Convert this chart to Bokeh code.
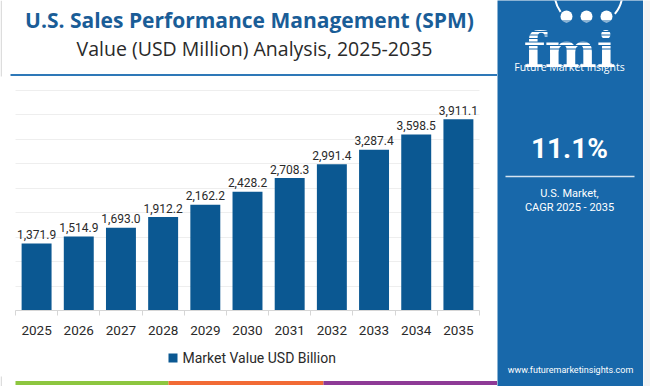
from bokeh.plotting import figure
from bokeh.models import (Range1d, ColumnDataSource, FixedTicker, LinearAxis, Grid)
from bokeh.layouts import row
from bokeh.embed import file_html
from bokeh.resources import INLINE
from bokeh.core.properties import value

# ---------------- data ----------------
years = ["2025", "2026", "2027", "2028", "2029", "2030", "2031", "2032", "2033", "2034", "2035"]
market_values = [1371.9, 1514.9, 1693.0, 1912.2, 2162.2, 2428.2, 2708.3, 2991.4, 3287.4, 3598.5, 3911.1]
series_name = "Market Value USD Billion"
title_text = "U.S. Sales Performance Management (SPM)"
subtitle_text = "Value (USD Million) Analysis, 2025-2035"
cagr_text = "11.1%"
cagr_caption = ["U.S. Market,", "CAGR 2025 - 2035"]
brand_name = "Future Market Insights"
brand_url = "www.futuremarketinsights.com"
y_grid_ticks = [0, 500, 1000, 1500, 2000, 2500, 3000, 3500, 4000, 4500]

# ---------------- styles / layout ----------------
BAR = "#0b5892"
PANEL = "#1868aa"
TITLE_C = "#1a5d97"
TEXT_C = "#2a2a2a"
FONT = "Roboto"
HEAD_FONT = "Open Sans"
W, H = 497, 386            # white chart area (pixels)
AXIS_L, AXIS_R = 15, 479   # pixel extent of the category axis
BASE_Y, TOP_Y = 310, 90    # pixel rows of value 0 and of the top grid line


def blank(width, height, xr, yr, bg="white"):
    f = figure(width=width, height=height, x_range=xr, y_range=yr, title=None,
               x_axis_location=None, y_axis_location=None,
               toolbar_location=None, output_backend="svg",
               min_border=0, min_border_left=0, min_border_right=0,
               min_border_top=0, min_border_bottom=0, outline_line_color=None,
               background_fill_color=bg, border_fill_color=bg)
    f.center = [r for r in f.center if not isinstance(r, Grid)]
    return f


# ---------------- left area: one figure, pixel ranges + data ranges ----------------
left = blank(W, H, Range1d(0, W), Range1d(H, 0))

n = len(years)
idx = list(range(n))
cat_px = (AXIS_R - AXIS_L) / n
x_lo, x_hi = -0.5, n - 0.5
vpp = y_grid_ticks[-1] / (BASE_Y - TOP_Y)
left.extra_x_ranges = {"cat": Range1d(x_lo - AXIS_L / cat_px, x_hi + (W - AXIS_R) / cat_px)}
left.extra_y_ranges = {"val": Range1d(-(H - BASE_Y) * vpp, y_grid_ticks[-1] + TOP_Y * vpp)}

src = ColumnDataSource(dict(x=idx, year=years, value=market_values,
                            label=[f"{v:,.1f}" for v in market_values]))

if "cross_bounds" in Grid.properties():
    left.add_layout(Grid(dimension=1, ticker=FixedTicker(ticks=y_grid_ticks),
                         x_range_name="cat", y_range_name="val", cross_bounds=(x_lo, x_hi),
                         grid_line_color="#eeeeee", grid_line_width=1))
else:
    left.segment(x0=[x_lo] * len(y_grid_ticks), y0=y_grid_ticks,
                 x1=[x_hi] * len(y_grid_ticks), y1=y_grid_ticks,
                 x_range_name="cat", y_range_name="val",
                 line_color="#eeeeee", line_width=1, level="underlay")

bars = left.vbar(x="x", top="value", bottom=0, width=0.71, source=src,
                 x_range_name="cat", y_range_name="val", fill_color=BAR, line_color=None)
left.text(x="x", y="value", text="label", source=src, x_range_name="cat", y_range_name="val",
          text_align="center", text_baseline="alphabetic", y_offset=-9,
          text_font=value(FONT), text_font_size="12px", text_color=TEXT_C)

xaxis = LinearAxis(x_range_name="cat", y_range_name="val", fixed_location=0,
                   ticker=FixedTicker(ticks=idx, minor_ticks=[i - 0.5 for i in range(n + 1)]),
                   bounds=(x_lo, x_hi),
                   major_label_overrides={i: y for i, y in zip(idx, years)},
                   axis_line_color="#d6d6d6", major_tick_line_color=None,
                   major_tick_out=5, major_tick_in=0,
                   minor_tick_line_color="#d6d6d6", minor_tick_out=5, minor_tick_in=0,
                   major_label_standoff=10,
                   major_label_text_font=FONT, major_label_text_font_size="13.5px",
                   major_label_text_color=TEXT_C)
left.add_layout(xaxis, "below")

# title block
left.text(x=[249], y=[19], text=[title_text], text_align="center", text_baseline="middle",
          text_font=value(HEAD_FONT), text_font_style="bold", text_font_size="21px",
          text_color=TITLE_C)
left.text(x=[254], y=[48], text=[subtitle_text], text_align="center", text_baseline="middle",
          text_font=value(HEAD_FONT), text_font_size="19.5px", text_color=TEXT_C)
left.segment(x0=[10], y0=[74.5], x1=[W], y1=[74.5], line_color="#2e78b8", line_width=2)
left.segment(x0=[0.75, 0.75], y0=[0, 376], x1=[0.75, 0.75], y1=[76, H],
             line_color="#dddddd", line_width=1.5)

# legend (swatch + label) and colour stripe
left.scatter(x=[172.5], y=[357.5], marker="square", size=9, fill_color=BAR, line_color=None)
left.text(x=[182], y=[357.5], text=[series_name], text_align="left", text_baseline="middle",
          text_font=value(FONT), text_font_size="14px", text_color=TEXT_C)
left.quad(left=[15, 168, 323], right=[168, 323, W], bottom=[384.5] * 3, top=[380.5] * 3,
          fill_color=["#8dc63f", "#f26b35", "#8e3a96"], line_color=None)

# ---------------- right panel (screen x 497-643) ----------------
panel = blank(146, H, Range1d(497, 643), Range1d(H, 0), bg=PANEL)
panel.arc(x=[588], y=[-8], radius=34, start_angle=3.75, end_angle=5.6, direction="clock",
          line_color="white", line_width=2)
panel.text(x=[569], y=[49], text=["fmi"], text_align="center", text_baseline="alphabetic",
           text_font=value("DejaVu Serif"), text_font_style="bold", text_font_size="49px",
           text_color="white")
panel.scatter(x=[566, 586, 606], y=[16, 16, 16], size=12, marker="circle",
              fill_color="white", line_color=None)
panel.segment(x0=[514] * 9, y0=[20.5 + 3.5 * k for k in range(9)], x1=[626] * 9,
              y1=[20.5 + 3.5 * k for k in range(9)], line_color=PANEL, line_width=1.1)
panel.text(x=[569], y=[66], text=[brand_name], text_align="center", text_baseline="middle",
           text_font=value(HEAD_FONT), text_font_size="10.5px", text_color="white")
panel.text(x=[569], y=[148], text=[cagr_text], text_align="center", text_baseline="middle",
           text_font=value(FONT), text_font_style="bold", text_font_size="28px", text_color="white")
panel.segment(x0=[505], y0=[176], x1=[634], y1=[176], line_color="#d5e3f0", line_width=1.5)
panel.text(x=[569, 569], y=[193, 207], text=cagr_caption, text_align="center", text_baseline="middle",
           text_font=value(FONT), text_font_size="11px", text_color="white")
panel.text(x=[570], y=[369], text=[brand_url], text_align="center", text_baseline="middle",
           text_font=value(FONT), text_font_size="9px", text_color="white")

edge = blank(7, H, Range1d(0, 1), Range1d(0, 1), bg="#f3f3f3")

layout = row(left, panel, edge)

open("out.html", "w").write(file_html(layout, INLINE))
